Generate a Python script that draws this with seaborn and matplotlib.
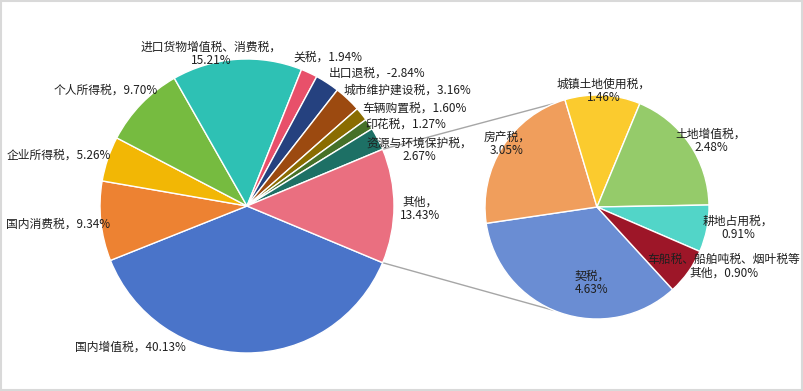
import numpy as np
import matplotlib
matplotlib.use("Agg")
import matplotlib.pyplot as plt
import seaborn as sns
from matplotlib.patches import Rectangle

# data
main_names = ["国内增值税", "国内消费税", "企业所得税", "个人所得税",
              "进口货物增值税、消费税", "关税", "出口退税", "城市维护建设税",
              "车辆购置税", "印花税", "资源与环境保护税", "其他"]
main_values = [40.13, 9.34, 5.26, 9.70, 15.21, 1.94, -2.84, 3.16, 1.60, 1.27, 2.67, 13.43]

sub_names = ["契税", "房产税", "城镇土地使用税", "土地增值税", "耕地占用税",
             "车船税、船舶吨税、烟叶税等\n其他"]
sub_values = [4.63, 3.05, 1.46, 2.48, 0.91, 0.90]

# styles
main_colors = ["#4A74C9", "#ED8232", "#F2B705", "#76BB40", "#2EC1B4", "#E8506A",
               "#25417F", "#9C4A10", "#8A6C00", "#467128", "#1D7065", "#EA6F80"]
sub_colors = ["#6A8DD3", "#F09E5C", "#FBCB2E", "#95CB6A", "#52D5C8", "#9D1628"]
main_wrap = [False, False, False, False, True, False, False, False, False, False, True, True]
sub_wrap = [True, True, True, True, True, False]

W, H = 804, 391
# label centres in pixels (x, y from top)
main_label_pos = [(130, 347), (58, 224), (59, 155), (106, 90), (211, 54), (328, 57),
                  (377, 73), (407, 90), (414, 108), (406, 124), (419, 150), (420, 209)]
sub_label_pos = [(592, 283), (507, 144), (604, 91), (711, 141), (738, 228), (724, 266)]

C1, R1 = (247, H - 206), 147
C2, R2 = (597, H - 207), 112
SUB_START = -47.5
LINK_ANGLE = 112.5

sns.set_theme(style="white")
plt.rcParams["font.family"] = ["Noto Sans CJK SC", "DejaVu Sans"]


def make_label(name, val, wrap):
    sep = "，\n" if wrap else "，"
    return f"{name}{sep}{val:.2f}%"


fig = plt.figure(figsize=(W / 100, H / 100), dpi=100)
ax = fig.add_axes([0, 0, 1, 1])

sizes = np.abs(main_values)
other_angle = sizes[-1] / sizes.sum() * 360
wedge_kw = dict(edgecolor="white", linewidth=1.0)

ax.pie(sizes, colors=sns.color_palette(main_colors), center=C1, radius=R1,
       startangle=-other_angle / 2, counterclock=False, wedgeprops=wedge_kw)
ax.pie(sub_values, colors=sns.color_palette(sub_colors), center=C2, radius=R2,
       startangle=SUB_START, counterclock=False, wedgeprops=wedge_kw)

# connector lines between the "其他" slice and the secondary pie
for sgn in (1, -1):
    a1 = np.deg2rad(sgn * other_angle / 2)
    a2 = np.deg2rad(sgn * LINK_ANGLE)
    ax.plot([C1[0] + R1 * np.cos(a1), C2[0] + R2 * np.cos(a2)],
            [C1[1] + R1 * np.sin(a1), C2[1] + R2 * np.sin(a2)],
            color="#A6A6A6", lw=1.0, zorder=0)

for name, val, wrap, (x, y) in zip(main_names, main_values, main_wrap, main_label_pos):
    ax.text(x, H - y, make_label(name, val, wrap), ha="center", va="center",
            fontsize=8.5, color="#1F1F1F", linespacing=1.05, multialignment="center")
for name, val, wrap, (x, y) in zip(sub_names, sub_values, sub_wrap, sub_label_pos):
    ax.text(x, H - y, make_label(name, val, wrap), ha="center", va="center",
            fontsize=8.5, color="#1F1F1F", linespacing=1.05, multialignment="center")

ax.set_xlim(0, W)
ax.set_ylim(0, H)
ax.set_aspect("equal")
ax.axis("off")

fig.add_artist(Rectangle((0.001, 0.003), 0.996, 0.994, transform=fig.transFigure,
                         fill=False, edgecolor="#D9D9D9", linewidth=1.5))

fig.savefig("out.png", dpi=100)
